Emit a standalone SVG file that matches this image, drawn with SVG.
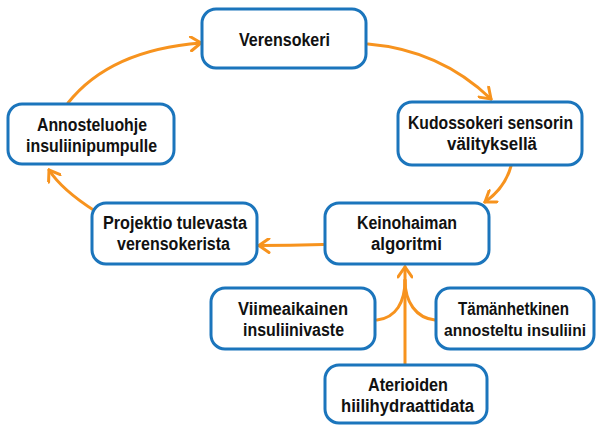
<svg xmlns="http://www.w3.org/2000/svg" width="596" height="425" viewBox="0 0 596 425">
<style>
.box{fill:#fff;stroke:#1b75bc;stroke-width:3}
.t{font-family:"Liberation Sans Narrow","Liberation Sans",Arial,sans-serif;font-weight:bold;font-size:18px;fill:#111;text-anchor:middle}
.c{fill:none;stroke:#f7931e;stroke-width:3;stroke-linecap:round;stroke-linejoin:round}
</style>
<defs>
<marker id="ah" viewBox="-12 -8 14 16" refX="0" refY="0" markerWidth="14" markerHeight="16" markerUnits="userSpaceOnUse" orient="auto">
<path d="M-10,-7 L0,0 L-10,7" fill="none" stroke="#f7931e" stroke-width="3" stroke-linecap="round" stroke-linejoin="miter"/>
</marker>
</defs>
<rect width="596" height="425" fill="#fff"/>
<g id="connectors">
<path class="c" d="M368,44 Q440,50 491,99" marker-end="url(#ah)"/>
<path class="c" d="M511,166 Q505,188 485,202" marker-end="url(#ah)"/>
<path class="c" d="M323,244.5 Q290,245.5 259,245.5" marker-end="url(#ah)"/>
<path class="c" d="M95,211 Q62,190 49,170" marker-end="url(#ah)"/>
<path class="c" d="M68,103 Q110,50 201,43" marker-end="url(#ah)"/>
<path class="c" d="M405,365 L405,267" marker-end="url(#ah)"/>
<path class="c" d="M377,320 C396,318 405,302 405,280"/>
<path class="c" d="M435,320 C416,318 405,302 405,280"/>
</g>
<g id="verensokeri">
<rect class="box" x="202" y="9" width="164" height="59" rx="14"/>
<text class="t" x="284.5" y="46" textLength="91" lengthAdjust="spacingAndGlyphs">Verensokeri</text>
</g>
<g id="kudossokeri">
<rect class="box" x="398" y="102" width="184" height="63" rx="14"/>
<text class="t" x="490.5" y="129" textLength="165" lengthAdjust="spacingAndGlyphs">Kudossokeri sensorin</text>
<text class="t" x="492" y="150" textLength="90" lengthAdjust="spacingAndGlyphs">välityksellä</text>
</g>
<g id="annosteluohje">
<rect class="box" x="8" y="104" width="166" height="60" rx="14"/>
<text class="t" x="92" y="131" textLength="110" lengthAdjust="spacingAndGlyphs">Annosteluohje</text>
<text class="t" x="91.5" y="152" textLength="131" lengthAdjust="spacingAndGlyphs">insuliinipumpulle</text>
</g>
<g id="projektio">
<rect class="box" x="92" y="203" width="165" height="61" rx="14"/>
<text class="t" x="175" y="229" textLength="144" lengthAdjust="spacingAndGlyphs">Projektio tulevasta</text>
<text class="t" x="173.5" y="250" textLength="113" lengthAdjust="spacingAndGlyphs">verensokerista</text>
</g>
<g id="keinohaiman">
<rect class="box" x="325" y="203" width="164" height="61" rx="14"/>
<text class="t" x="407" y="229" textLength="100" lengthAdjust="spacingAndGlyphs">Keinohaiman</text>
<text class="t" x="406.5" y="250" textLength="71" lengthAdjust="spacingAndGlyphs">algoritmi</text>
</g>
<g id="viimeaikainen">
<rect class="box" x="211" y="288" width="164" height="61" rx="14"/>
<text class="t" x="293" y="315" textLength="110" lengthAdjust="spacingAndGlyphs">Viimeaikainen</text>
<text class="t" x="293.5" y="336" textLength="101" lengthAdjust="spacingAndGlyphs">insuliinivaste</text>
</g>
<g id="tamanhetkinen">
<rect class="box" x="436" y="288" width="158" height="61" rx="14"/>
<text class="t" x="513.5" y="315" textLength="111" lengthAdjust="spacingAndGlyphs">Tämänhetkinen</text>
<text class="t" x="515" y="336" style="font-size:16px" textLength="142" lengthAdjust="spacingAndGlyphs">annosteltu insuliini</text>
</g>
<g id="aterioiden">
<rect class="box" x="325" y="365" width="162" height="58" rx="14"/>
<text class="t" x="408" y="391" textLength="80" lengthAdjust="spacingAndGlyphs">Aterioiden</text>
<text class="t" x="407.5" y="412" textLength="133" lengthAdjust="spacingAndGlyphs">hiilihydraattidata</text>
</g>
</svg>
